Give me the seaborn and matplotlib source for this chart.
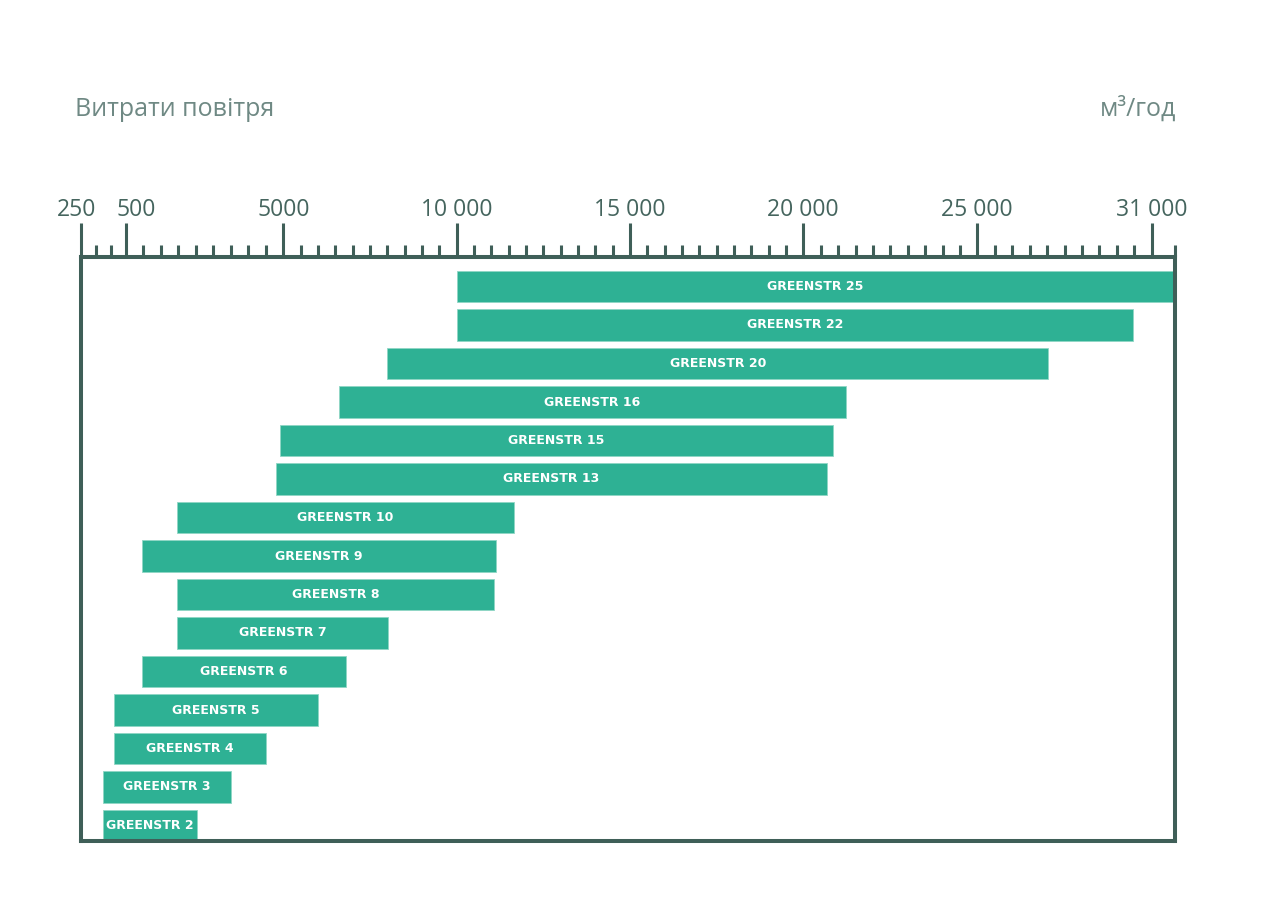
import numpy as np
import pandas as pd
import matplotlib
matplotlib.use("Agg")
import matplotlib.pyplot as plt
import matplotlib.transforms as mtransforms
from matplotlib.ticker import FixedLocator, FixedFormatter
import seaborn as sns

# ---------------- data ----------------
models = ["GREENSTR 25", "GREENSTR 22", "GREENSTR 20", "GREENSTR 16", "GREENSTR 15",
          "GREENSTR 13", "GREENSTR 10", "GREENSTR 9", "GREENSTR 8", "GREENSTR 7",
          "GREENSTR 6", "GREENSTR 5", "GREENSTR 4", "GREENSTR 3", "GREENSTR 2"]
flow_min = [10000, 10000, 8000, 6600, 4900, 4800, 1970, 970, 1970, 1970,
            970, 436, 436, 372, 372]
flow_max = [31780, 30350, 27440, 21220, 20860, 20670, 11650, 11130, 11075, 8010,
            6800, 6000, 4500, 3500, 2530]

major_values = [250, 500, 5000, 10000, 15000, 20000, 25000, 31000]
major_labels = ["250", "500", "5000", "10 000", "15 000", "20 000", "25 000", "31 000"]

title_text = "Витрати повітря"
unit_text = "м³/год"

# ---------------- styles ----------------
AX_COL = "#3f5f58"
TXT_COL = "#45655e"
TITLE_COL = "#6f8984"
BAR_COL = "#2eb194"

W, H = 1267, 908
# piecewise (stylised) axis: anchor values -> horizontal pixel positions
anchor_px = [80.5, 126.0, 283.3, 456.7, 630.0, 803.3, 977.3, 1151.7]
AX_LEFT_PX, AX_RIGHT_PX, AX_TOP_PX, AX_BOTTOM_PX = 80.5, 1174.5, 257.0, 841.0

VA = np.array(major_values, float)
PA = np.array(anchor_px, float)


def _pw(v, xs, ys):
    v = np.asarray(v, dtype=float)
    flat = np.atleast_1d(v).ravel().copy()
    out = np.interp(flat, xs, ys)
    lo = flat < xs[0]
    hi = flat > xs[-1]
    out[lo] = ys[0] + (flat[lo] - xs[0]) * (ys[1] - ys[0]) / (xs[1] - xs[0])
    out[hi] = ys[-1] + (flat[hi] - xs[-1]) * (ys[-1] - ys[-2]) / (xs[-1] - xs[-2])
    return out.reshape(v.shape)


def fwd(v):
    return _pw(v, VA, PA)


def inv(p):
    return _pw(p, PA, VA)


# ---------------- figure ----------------
sns.set_style("white")
plt.rcParams["font.family"] = ["Open Sans", "DejaVu Sans"]

fig = plt.figure(figsize=(W / 100, H / 100), dpi=100)
ax = fig.add_axes([AX_LEFT_PX / W, 1 - AX_BOTTOM_PX / H,
                   (AX_RIGHT_PX - AX_LEFT_PX) / W, (AX_BOTTOM_PX - AX_TOP_PX) / H])

df = pd.DataFrame({"model": models,
                   "width": np.array(flow_max, float) - np.array(flow_min, float)})

sns.barplot(data=df, x="width", y="model", orient="y", color=BAR_COL,
            width=0.82, left=np.array(flow_min, float), ax=ax,
            edgecolor="#8fd6c5", linewidth=0.6, saturation=1)

ax.set_xscale("function", functions=(fwd, inv))
x_right = float(inv(AX_RIGHT_PX))
ax.set_xlim(major_values[0], x_right)

# y limits so bars sit as in the reference (pitch ~38.5px)
n = len(models)
pitch = (825.5 - 286.5) / (n - 1)
ax.set_ylim((AX_BOTTOM_PX - 286.5) / pitch, (AX_TOP_PX - 286.5) / pitch)

# ticks on top
minor_vals = [250 + 250 / 3, 250 + 500 / 3]
minor_vals += [v for v in range(1000, 25000, 500) if v not in major_values]
minor_vals += [25000 + 600 * k for k in range(1, 10)]
minor_vals += [x_right]
ax.xaxis.set_ticks_position("top")
ax.xaxis.set_major_locator(FixedLocator(major_values))
ax.xaxis.set_major_formatter(FixedFormatter(major_labels))
ax.xaxis.set_minor_locator(FixedLocator(minor_vals))
ax.tick_params(axis="x", which="major", direction="out", length=24.5, width=2.2,
               color=AX_COL, labelcolor=TXT_COL, labelsize=16.5, pad=1,
               top=True, bottom=False, labeltop=True, labelbottom=False)
ax.tick_params(axis="x", which="minor", direction="out", length=8.5, width=2.2,
               color=AX_COL, top=True, bottom=False)
ax.set_yticks([])
ax.set_xlabel("")
ax.set_ylabel("")

# small label nudges as in the reference
offsets = {"250": -4, "500": 10}
for lab in ax.get_xticklabels(which="major"):
    dx = offsets.get(lab.get_text(), 0)
    if dx:
        lab.set_transform(lab.get_transform() +
                          mtransforms.ScaledTranslation(dx / 100, 0, fig.dpi_scale_trans))

for s in ax.spines.values():
    s.set_visible(True)
    s.set_color(AX_COL)
    s.set_linewidth(2.9)

# bar labels
for i, (name, a, b) in enumerate(zip(models, flow_min, flow_max)):
    mid = float(inv((fwd(a) + fwd(min(b, x_right))) / 2))
    ax.text(mid, i, name, ha="center", va="center", color="white",
            fontsize=9, fontweight="bold", family=["DejaVu Sans"])

# header texts
fig.text(75 / W, 1 - 116 / H, title_text, ha="left", va="baseline",
         fontsize=18, color=TITLE_COL)
fig.text(1176 / W, 1 - 116 / H, unit_text, ha="right", va="baseline",
         fontsize=18, color=TITLE_COL)

fig.savefig("out.png", dpi=100, facecolor="white")
